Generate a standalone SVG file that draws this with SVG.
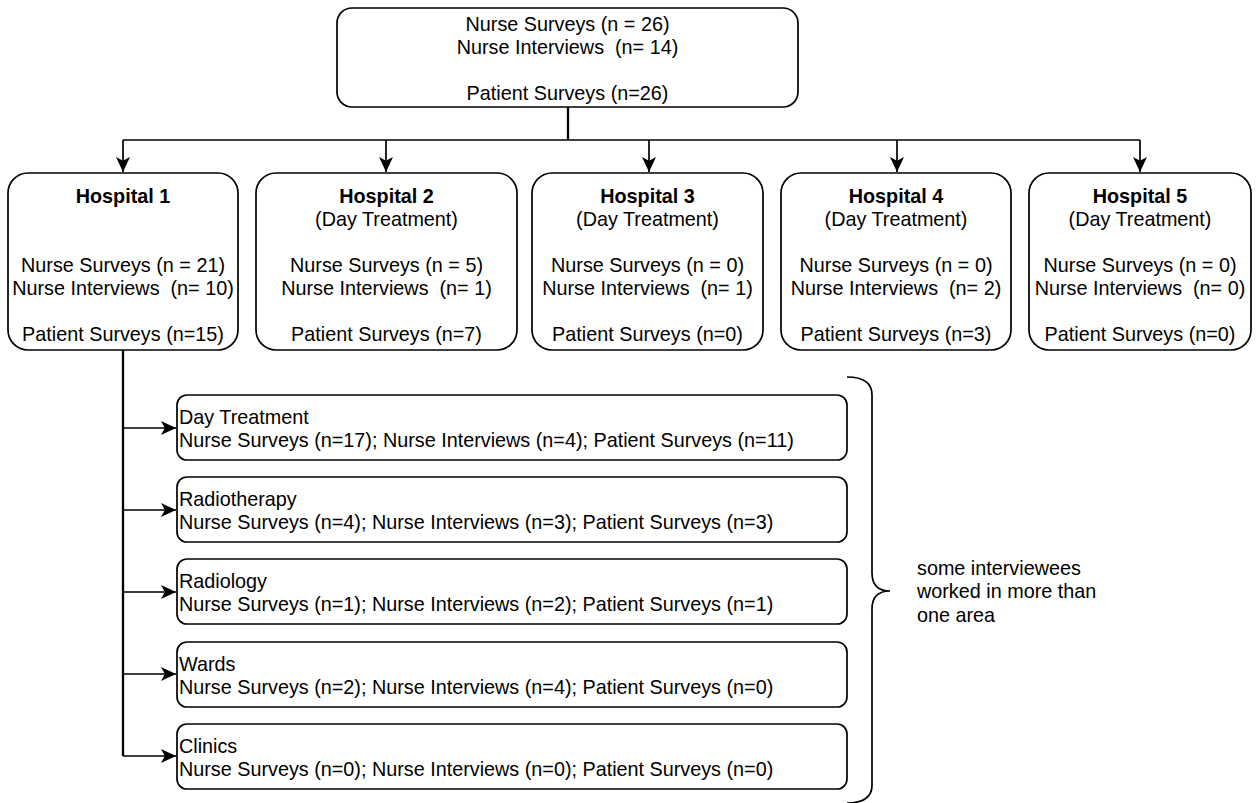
<svg xmlns="http://www.w3.org/2000/svg" width="1258" height="803" viewBox="0 0 1258 803">
<style>
  .box { fill: #ffffff; stroke: #000000; stroke-width: 1.7; }
  .t { font-family: "Liberation Sans", Arial, sans-serif; font-size: 19.8px; fill: #000000; }
  .c { text-anchor: middle; }
  .b { font-weight: bold; }
  .ln { fill: none; stroke: #000000; stroke-width: 1.7; }
  .stem { fill: none; stroke: #000000; stroke-width: 2.3; }
</style>
<defs>
  <marker id="arr" viewBox="0 0 15 14" refX="15" refY="7" markerWidth="15" markerHeight="14" markerUnits="userSpaceOnUse" orient="auto">
    <path d="M0,0 L15,7 L0,14 L3.8,7 Z" fill="#000000"/>
  </marker>
</defs>
<rect width="1258" height="803" fill="#ffffff"/>

<g id="connectors">
  <path class="stem" d="M568,107 L568,140"/>
  <path class="ln" d="M123,140 L1140,140"/>
  <path class="ln" d="M123,140 L123,172" marker-end="url(#arr)"/>
  <path class="ln" d="M386,140 L386,172" marker-end="url(#arr)"/>
  <path class="ln" d="M649,140 L649,172" marker-end="url(#arr)"/>
  <path class="ln" d="M897,140 L897,172" marker-end="url(#arr)"/>
  <path class="ln" d="M1140,140 L1140,172" marker-end="url(#arr)"/>
  <path class="stem" d="M123,350 L123,756"/>
  <path class="ln" d="M123,428 L176,428" marker-end="url(#arr)"/>
  <path class="ln" d="M123,510 L176,510" marker-end="url(#arr)"/>
  <path class="ln" d="M123,592 L176,592" marker-end="url(#arr)"/>
  <path class="ln" d="M123,674 L176,674" marker-end="url(#arr)"/>
  <path class="ln" d="M123,756 L176,756" marker-end="url(#arr)"/>
</g>

<g id="top">
  <rect class="box" x="337" y="8" width="461" height="99" rx="15" ry="15"/>
  <text class="t c" x="567.5" y="31">Nurse Surveys (n = 26)</text>
  <text class="t c" x="567.5" y="54" xml:space="preserve">Nurse Interviews  (n= 14)</text>
  <text class="t c" x="567.5" y="100">Patient Surveys (n=26)</text>
</g>

<g id="hospital1">
  <rect class="box" x="8" y="173" width="230" height="177" rx="20" ry="20"/>
  <text class="t c b" x="123" y="203">Hospital 1</text>
  <text class="t c" x="123" y="272">Nurse Surveys (n = 21)</text>
  <text class="t c" x="123" y="295" xml:space="preserve">Nurse Interviews  (n= 10)</text>
  <text class="t c" x="123" y="341">Patient Surveys (n=15)</text>
</g>

<g id="hospital2">
  <rect class="box" x="256" y="173" width="261" height="177" rx="20" ry="20"/>
  <text class="t c b" x="386.5" y="203">Hospital 2</text>
  <text class="t c" x="386.5" y="226">(Day Treatment)</text>
  <text class="t c" x="386.5" y="272">Nurse Surveys (n = 5)</text>
  <text class="t c" x="386.5" y="295" xml:space="preserve">Nurse Interviews  (n= 1)</text>
  <text class="t c" x="386.5" y="341">Patient Surveys (n=7)</text>
</g>

<g id="hospital3">
  <rect class="box" x="532" y="173" width="231" height="177" rx="20" ry="20"/>
  <text class="t c b" x="647.5" y="203">Hospital 3</text>
  <text class="t c" x="647.5" y="226">(Day Treatment)</text>
  <text class="t c" x="647.5" y="272">Nurse Surveys (n = 0)</text>
  <text class="t c" x="647.5" y="295" xml:space="preserve">Nurse Interviews  (n= 1)</text>
  <text class="t c" x="647.5" y="341">Patient Surveys (n=0)</text>
</g>

<g id="hospital4">
  <rect class="box" x="781" y="173" width="230" height="177" rx="20" ry="20"/>
  <text class="t c b" x="896" y="203">Hospital 4</text>
  <text class="t c" x="896" y="226">(Day Treatment)</text>
  <text class="t c" x="896" y="272">Nurse Surveys (n = 0)</text>
  <text class="t c" x="896" y="295" xml:space="preserve">Nurse Interviews  (n= 2)</text>
  <text class="t c" x="896" y="341">Patient Surveys (n=3)</text>
</g>

<g id="hospital5">
  <rect class="box" x="1029" y="173" width="222" height="177" rx="20" ry="20"/>
  <text class="t c b" x="1140" y="203">Hospital 5</text>
  <text class="t c" x="1140" y="226">(Day Treatment)</text>
  <text class="t c" x="1140" y="272">Nurse Surveys (n = 0)</text>
  <text class="t c" x="1140" y="295" xml:space="preserve">Nurse Interviews  (n= 0)</text>
  <text class="t c" x="1140" y="341">Patient Surveys (n=0)</text>
</g>

<g id="dayTreatment">
  <rect class="box" x="177" y="395" width="670" height="65" rx="10" ry="10"/>
  <text class="t" x="179" y="424">Day Treatment</text>
  <text class="t" x="179" y="447">Nurse Surveys (n=17); Nurse Interviews (n=4); Patient Surveys (n=11)</text>
</g>

<g id="radiotherapy">
  <rect class="box" x="177" y="477" width="670" height="65" rx="10" ry="10"/>
  <text class="t" x="179" y="506">Radiotherapy</text>
  <text class="t" x="179" y="529">Nurse Surveys (n=4); Nurse Interviews (n=3); Patient Surveys (n=3)</text>
</g>

<g id="radiology">
  <rect class="box" x="177" y="559" width="670" height="65" rx="10" ry="10"/>
  <text class="t" x="179" y="588">Radiology</text>
  <text class="t" x="179" y="611">Nurse Surveys (n=1); Nurse Interviews (n=2); Patient Surveys (n=1)</text>
</g>

<g id="wards">
  <rect class="box" x="177" y="642" width="670" height="65" rx="10" ry="10"/>
  <text class="t" x="179" y="671">Wards</text>
  <text class="t" x="179" y="694">Nurse Surveys (n=2); Nurse Interviews (n=4); Patient Surveys (n=0)</text>
</g>

<g id="clinics">
  <rect class="box" x="177" y="724" width="670" height="65" rx="10" ry="10"/>
  <text class="t" x="179" y="753">Clinics</text>
  <text class="t" x="179" y="776">Nurse Surveys (n=0); Nurse Interviews (n=0); Patient Surveys (n=0)</text>
</g>

<g id="brace">
  <path class="ln" d="M847,377 Q872,377 872,395 L872,573 Q872,591 890,591 Q872,591 872,609 L872,785 Q872,803 847,803"/>
  <text class="t" x="917" y="575">some interviewees</text>
  <text class="t" x="917" y="598">worked in more than</text>
  <text class="t" x="917" y="622">one area</text>
</g>
</svg>
